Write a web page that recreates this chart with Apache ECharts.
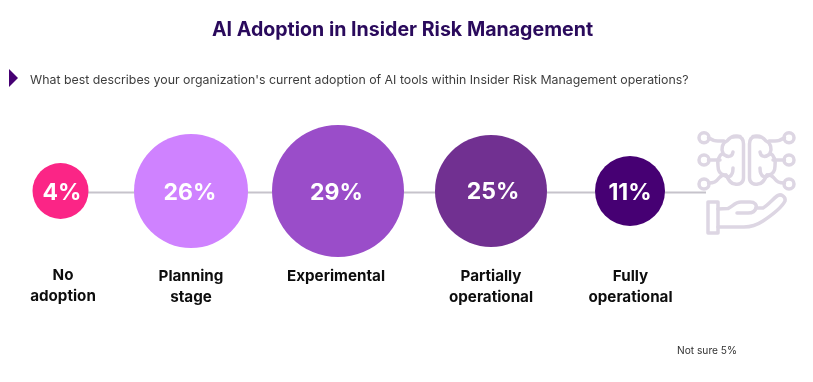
<!DOCTYPE html>
<html><head><meta charset="utf-8">
<style>html,body{margin:0;padding:0;background:#fff}#c{width:813px;height:382px}</style>
<script src="https://cdn.jsdelivr.net/npm/echarts@6/dist/echarts.min.js"></script></head>
<body><div id="c"></div>
<script>
const categories = ['No\nadoption', 'Planning\nstage', 'Experimental', 'Partially\noperational', 'Fully\noperational'];
const values = [4, 26, 29, 25, 11];
const valueLabels = ['4%', '26%', '29%', '25%', '11%'];
const colors = ['#fb2586', '#cf82ff', '#9a4dc9', '#713091', '#460073'];
// layout (pixels in the picture)
const centreX = [60.5, 191, 338, 491, 630];
const centreY = [191, 191, 191, 191, 191];
const diameters = [56, 114, 132, 112, 70];
const labelOffsetX = [1.5, -1, -1.5, 2, 0];
const labelOffsetY = [2, 2, 2, 1, 2];
const labelX = [63, 191, 336, 491, 630.5];
const labelY = [285.5, 286.5, 276, 286.5, 286.5];
const lineEndX = 706;
const FONT = 'Inter';

const chart = echarts.init(document.getElementById('c'), null, {renderer: 'canvas'});
const iconStyle = {stroke: '#ddd6e3', fill: 'none', lineWidth: 3.5, lineCap: 'round', lineJoin: 'round'};
const halfBrain = [
  'M708.5,137.7 C712,140 714,141 718,141 L724,141',
  'M708.5,160 L720,160',
  'M708.5,183 C714,183 716,182 719,178 C721,175.5 723,175 726,175',
  'M740,136.5 C735,135 730,137 727,141 C722,143 721,149 723,153 C719,155 717,161 718,166 C718,171 720,174 724,175 C727,178 733,178 733,168',
  'M723,154 C727,157 732,158 733,152',
  'M733,137 L738,136.5 C742,137 743.5,140 743.5,144 L743.5,178 C743.5,183 739,185 735,184 C731,184 729,181 726,175'
];
const nodePoints = [[704, 137.7], [704, 160], [704, 184]];
const handPaths = [
  'M708,202 L718,202 L718,233 L708,233 Z',
  'M718,209 L728,208.5 C732,207 735,202 741,202 L750,202 C755,202 757,205 756,208 C755,212 752,213 748,213 L737,213',
  'M756,208 L763,208 C768,205 773,199 777,196 C781,193 786,197 785,201 C782,207 772,215 763,221 C757,225 750,227 744,227 L718,227'
];
const pathEl = d => ({type: 'path', shape: {pathData: d}, style: iconStyle});
const brainEls = () => halfBrain.map(pathEl).concat(nodePoints.map(c =>
  ({type: 'circle', shape: {cx: c[0], cy: c[1], r: 5}, style: iconStyle})));

chart.setOption({
  animation: false,
  title: [
    {text: 'AI Adoption in Insider Risk Management', left: 397.5, top: 15, textAlign: 'center',
     textStyle: {fontFamily: FONT, fontWeight: 700, fontSize: 19.6, color: '#2a0a5c'}},
    {text: "What best describes your organization's current adoption of AI tools within Insider Risk Management operations?",
     left: 25, top: 69, textStyle: {fontFamily: FONT, fontWeight: 400, fontSize: 12.35, color: '#3d3d3d'}}
  ],
  grid: {left: 0, right: 0, top: 0, bottom: 0},
  xAxis: {type: 'value', min: 0, max: 813, show: false},
  yAxis: {type: 'value', min: 0, max: 382, inverse: true, show: false},
  series: [
    {type: 'line', silent: true, symbol: 'none', z: 1,
     lineStyle: {color: '#c6c3cb', width: 2},
     data: centreX.map(x => [x, 192.5]).concat([[lineEndX, 192.5]])},
    {type: 'scatter', z: 2, silent: true,
     symbolSize: (v, o) => diameters[o.dataIndex],
     data: values.map((v, i) => ({value: [centreX[i], centreY[i], v],
       itemStyle: {color: colors[i], opacity: 1},
       label: {offset: [labelOffsetX[i], labelOffsetY[i]]}})),
     label: {show: true, position: 'inside', formatter: o => valueLabels[o.dataIndex],
       fontFamily: FONT, fontWeight: 700, fontSize: 23, color: '#fff'}},
    {type: 'scatter', z: 3, silent: true, symbolSize: 0, itemStyle: {opacity: 1},
     data: categories.map((c, i) => [labelX[i], labelY[i]]),
     label: {show: true, position: [0, 0], align: 'center', verticalAlign: 'middle',
       formatter: o => categories[o.dataIndex], lineHeight: 21, opacity: 1,
       fontFamily: FONT, fontWeight: 700, fontSize: 15.2, color: '#0d0d0d'}},
    {type: 'custom', coordinateSystem: 'none', silent: true, z: 0, data: [0],
     renderItem: () => ({type: 'group', children: [
       {type: 'group', children: brainEls()},
       {type: 'group', x: 1493, scaleX: -1, children: brainEls()},
       {type: 'group', children: handPaths.map(pathEl)}
     ]})}
  ],
  graphic: [
    {type: 'polygon', shape: {points: [[9, 69], [18, 78], [9, 87]]}, style: {fill: '#460073'}},
    {type: 'text', x: 677, y: 346, style: {text: 'Not sure 5%', font: '400 10.2px ' + FONT, fill: '#333'}}
  ]
});
</script></body></html>
